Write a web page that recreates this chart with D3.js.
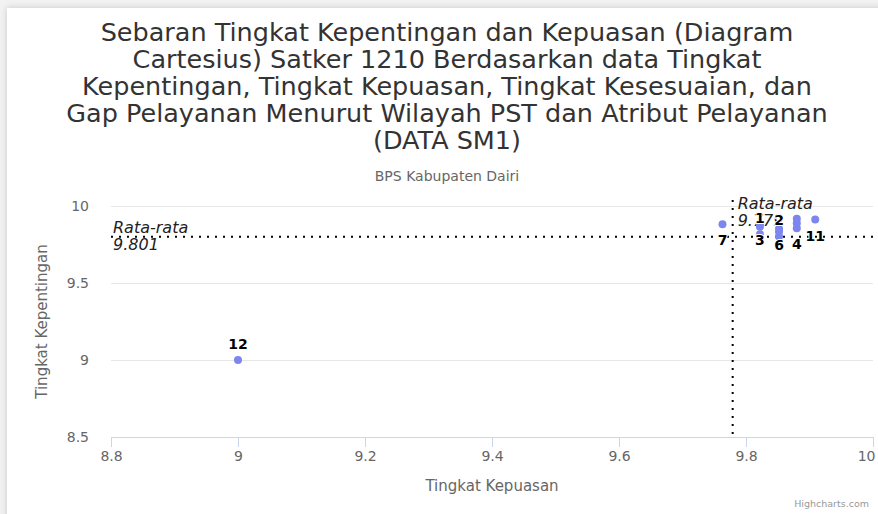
<!DOCTYPE html>
<html>
<head>
<meta charset="utf-8">
<script src="https://cdn.jsdelivr.net/npm/d3@7"></script>
<style>
  body { margin: 0; background: #fff; }
  svg { display: block; font-family: "DejaVu Sans", sans-serif; }
</style>
</head>
<body>
<div id="chart"></div>
<script>
// title lines as they wrap in the picture
const titleLines = [
  "Sebaran Tingkat Kepentingan dan Kepuasan (Diagram",
  "Cartesius) Satker 1210 Berdasarkan data Tingkat",
  "Kepentingan, Tingkat Kepuasan, Tingkat Kesesuaian, dan",
  "Gap Pelayanan Menurut Wilayah PST dan Atribut Pelayanan",
  "(DATA SM1)"
];
const subtitle = "BPS Kabupaten Dairi";

// atribut pelayanan
const names = ["1", "2", "3", "4", "5", "6", "7", "8", "9", "10", "11", "12"];
const kepuasan = [9.822, 9.852, 9.822, 9.880, 9.822, 9.852, 9.763, 9.852, 9.880, 9.880, 9.909, 9.000];
const kepentingan = [9.817, 9.802, 9.885, 9.855, 9.866, 9.852, 9.882, 9.832, 9.888, 9.918, 9.912, 9.000];

const meanKepuasan = 9.779;
const meanKepentingan = 9.801;

const xTicks = [8.8, 9, 9.2, 9.4, 9.6, 9.8, 10];
const yTicks = [8.5, 9, 9.5, 10];

const width = 878, height = 514;
const plot = { left: 111, right: 873, top: 206, bottom: 437 };

const svg = d3.select("#chart").append("svg")
  .attr("width", width)
  .attr("height", height);

// grey page edge with the chart box on top
let defs = svg.append("defs");
defs.append("filter").attr("id", "shadow")
  .attr("x", "-5%").attr("y", "-5%").attr("width", "110%").attr("height", "110%")
  .append("feDropShadow")
  .attr("dx", 0).attr("dy", 0).attr("stdDeviation", 3)
  .attr("flood-color", "#000").attr("flood-opacity", 0.18);

svg.append("rect").attr("width", width).attr("height", height).attr("fill", "#f2f2f2");
svg.append("rect")
  .attr("x", 7).attr("y", 8)
  .attr("width", width).attr("height", height)
  .attr("fill", "#fff")
  .attr("filter", "url(#shadow)");

let x = d3.scaleLinear().domain([8.8, 10]).range([plot.left, plot.right]);
let y = d3.scaleLinear().domain([8.5, 10]).range([plot.bottom, plot.top]);

// title
let title = svg.append("text")
  .attr("text-anchor", "middle")
  .attr("fill", "#333")
  .style("font-size", "25.5px");
title.selectAll("tspan")
  .data(titleLines)
  .enter().append("tspan")
  .attr("x", 447)
  .attr("y", (d, i) => 41 + i * 27)
  .text(d => d);

svg.append("text")
  .attr("x", 447).attr("y", 181)
  .attr("text-anchor", "middle")
  .attr("fill", "#666")
  .style("font-size", "14px")
  .text(subtitle);

// y grid + labels
let yAxis = d3.axisLeft(y)
  .tickValues(yTicks)
  .tickSize(-(plot.right - plot.left))
  .tickPadding(22)
  .tickFormat(d3.format("~g"));

let gy = svg.append("g")
  .attr("transform", "translate(" + plot.left + ",0)")
  .call(yAxis);
gy.select(".domain").remove();
gy.selectAll(".tick line").attr("stroke", "#e6e6e6");
gy.selectAll(".tick text")
  .attr("fill", "#666")
  .style("font-size", "14px")
  .style("font-family", "DejaVu Sans, sans-serif");

// x axis
let xAxis = d3.axisBottom(x)
  .tickValues(xTicks)
  .tickSize(10)
  .tickSizeOuter(0)
  .tickPadding(4)
  .tickFormat(d3.format("~g"));

let gx = svg.append("g")
  .attr("transform", "translate(0," + plot.bottom + ")")
  .call(xAxis);
gx.select(".domain").attr("stroke", "#ccd6eb");
gx.selectAll(".tick line").attr("stroke", "#ccd6eb");
gx.selectAll(".tick text")
  .attr("fill", "#666")
  .style("font-size", "14px")
  .style("font-family", "DejaVu Sans, sans-serif");

// keep the last tick label inside the chart, like highcharts does
gx.selectAll(".tick").each(function(d) {
  let t = d3.select(this).select("text");
  let w = t.node().getComputedTextLength();
  if (x(d) + w / 2 > width - 3) {
    t.attr("text-anchor", "end").attr("x", width - 3 - x(d));
  }
});

// axis titles
svg.append("text")
  .attr("x", (plot.left + plot.right) / 2)
  .attr("y", 491)
  .attr("text-anchor", "middle")
  .attr("fill", "#666")
  .style("font-size", "15px")
  .text("Tingkat Kepuasan");

svg.append("text")
  .attr("transform", "translate(47," + ((plot.top + plot.bottom) / 2) + ") rotate(-90)")
  .attr("text-anchor", "middle")
  .attr("fill", "#666")
  .style("font-size", "15px")
  .text("Tingkat Kepentingan");

// mean lines
svg.append("line")
  .attr("x1", plot.left).attr("x2", plot.right)
  .attr("y1", y(meanKepentingan)).attr("y2", y(meanKepentingan))
  .attr("stroke", "#000").attr("stroke-width", 2)
  .attr("stroke-dasharray", "2,6");

svg.append("line")
  .attr("x1", x(meanKepuasan)).attr("x2", x(meanKepuasan))
  .attr("y1", plot.top - 6).attr("y2", plot.bottom)
  .attr("stroke", "#000").attr("stroke-width", 2)
  .attr("stroke-dasharray", "2,6");

function plotLabel(px, py, value) {
  let t = svg.append("text")
    .attr("fill", "#222")
    .style("font-size", "16px")
    .style("font-style", "italic");
  t.append("tspan").attr("x", px).attr("y", py).text("Rata-rata");
  t.append("tspan").attr("x", px).attr("y", py + 17).text(value.toFixed(3));
}
plotLabel(plot.left + 2, y(meanKepentingan) - 4, meanKepentingan);
plotLabel(x(meanKepuasan) + 5, plot.top + 3, meanKepuasan);

// points
let points = names.map(function(n, i) {
  return { name: n, px: x(kepuasan[i]), py: y(kepentingan[i]) };
});

svg.append("g").selectAll("circle")
  .data(points)
  .enter().append("circle")
  .attr("cx", d => d.px)
  .attr("cy", d => d.py)
  .attr("r", 4)
  .attr("fill", "#7d86ee");

// data labels: above the point, flipped below when it would leave the plot,
// hidden when it overlaps an earlier label
let placed = [];
let lg = svg.append("g");
points.forEach(function(d) {
  let above = d.py - 27 >= plot.top;
  let ty = above ? d.py - 11 : d.py + 21;
  let t = lg.append("text")
    .attr("x", d.px).attr("y", ty)
    .attr("text-anchor", "middle")
    .attr("fill", "#000")
    .attr("stroke", "#fff").attr("stroke-width", 2)
    .attr("paint-order", "stroke")
    .style("font-size", "14px")
    .style("font-weight", "bold")
    .text(d.name);
  let b = t.node().getBBox();
  let hit = placed.some(p => b.x < p.x + p.width && b.x + b.width > p.x &&
                             b.y < p.y + p.height && b.y + b.height > p.y);
  if (hit) t.remove();
  else placed.push(b);
});

// credits
svg.append("text")
  .attr("x", 869).attr("y", 507)
  .attr("text-anchor", "end")
  .attr("fill", "#999")
  .style("font-size", "9.5px")
  .text("Highcharts.com");
</script>
</body>
</html>
